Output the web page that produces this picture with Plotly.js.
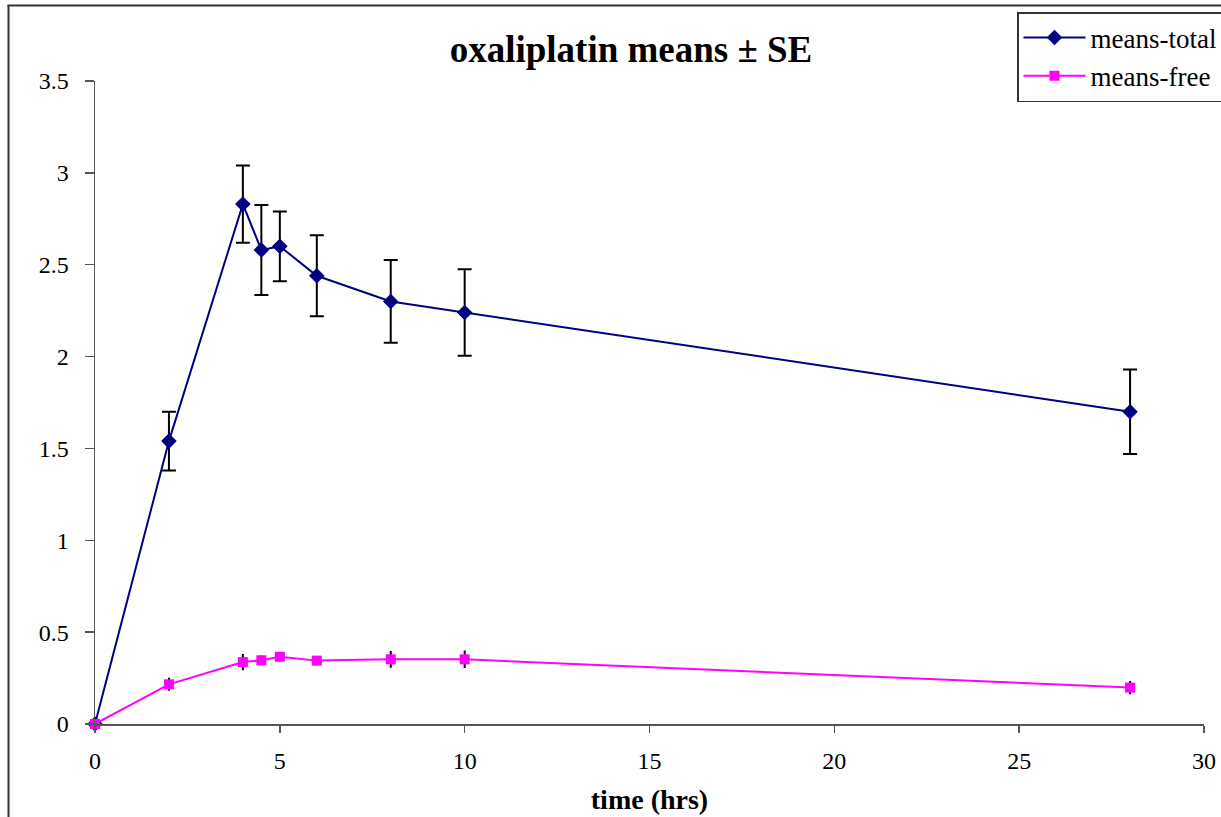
<!DOCTYPE html>
<html>
<head>
<meta charset="utf-8">
<script src="https://cdn.plot.ly/plotly-3.0.1.min.js"></script>
<style>
  html, body { margin: 0; padding: 0; background: #fff; }
  #chart { width: 1221px; height: 817px; }
</style>
</head>
<body>
<div id="chart"></div>
<script>
// Data
const timeHrs = [0, 2, 4, 4.5, 5, 6, 8, 10, 28];
const meansTotal = [0, 1.54, 2.83, 2.58, 2.60, 2.44, 2.30, 2.24, 1.70];
const seTotal = [0, 0.16, 0.21, 0.245, 0.19, 0.22, 0.225, 0.235, 0.23];
const meansFree = [0, 0.216, 0.337, 0.347, 0.366, 0.345, 0.352, 0.352, 0.198];
const seFree = [0, 0.03, 0.039, 0.02, 0.02, 0.02, 0.04, 0.042, 0.03];
const xTickVals = [0, 5, 10, 15, 20, 25, 30];
const yTickVals = [0, 0.5, 1, 1.5, 2, 2.5, 3, 3.5];
const yTickText = ['0', '0.5', '1', '1.5', '2', '2.5', '3', '3.5'];

const serif = 'Liberation Serif';

const traces = [
  {
    x: timeHrs, y: meansTotal, name: 'means-total', type: 'scatter', mode: 'lines+markers',
    cliponaxis: false,
    line: { color: '#000080', width: 2 },
    marker: { symbol: 'diamond', size: 12, color: '#000080' },
    error_y: { type: 'data', array: seTotal, visible: true, color: '#000000', thickness: 2, width: 7 }
  },
  {
    x: timeHrs, y: meansFree, name: 'means-free', type: 'scatter', mode: 'lines+markers',
    cliponaxis: false,
    line: { color: '#FF00FF', width: 2 },
    marker: { symbol: 'square', size: 10, color: '#FF00FF' },
    error_y: { type: 'data', array: seFree, visible: true, color: '#000000', thickness: 2, width: 1 }
  }
];

const L = 95, R = 17, T = 81, B = 93;
const W = 1221, H = 817;
const pw = W - L - R, ph = H - T - B;
const px2x = p => (p - L) / pw;
const py2y = p => (H - B - p) / ph;

const layout = {
  width: W, height: H,
  margin: { l: L, r: R, t: T, b: B, autoexpand: false },
  paper_bgcolor: '#ffffff', plot_bgcolor: '#ffffff',
  font: { family: serif, color: '#000000', size: 22 },
  title: {
    text: '<b>oxaliplatin means ± SE</b>',
    font: { family: serif, size: 37, color: '#000000' },
    x: px2x(631), xref: 'paper', xanchor: 'center',
    y: 1 - 49 / H, yref: 'container', yanchor: 'middle'
  },
  xaxis: {
    range: [0, 30], tickvals: xTickVals, ticktext: xTickVals.map(String),
    showgrid: false, zeroline: false, showline: true, linecolor: '#555555', linewidth: 1.5,
    ticks: 'outside', ticklen: 7, tickwidth: 1.5, tickcolor: '#555555',
    tickfont: { family: serif, size: 24, color: '#000000' },
    ticklabelstandoff: 8,
    title: { text: '<b>time (hrs)</b>', font: { family: serif, size: 28, color: '#000000' }, standoff: 16 },
    fixedrange: true
  },
  yaxis: {
    range: [0, 3.5], tickvals: yTickVals, ticktext: yTickText,
    showgrid: false, zeroline: false, showline: true, linecolor: '#555555', linewidth: 1.5,
    ticks: 'outside', ticklen: 9, tickwidth: 1.5, tickcolor: '#555555',
    tickfont: { family: serif, size: 24, color: '#000000' },
    ticklabelstandoff: 11,
    fixedrange: true
  },
  showlegend: true,
  legend: {
    x: px2x(1017), y: py2y(12), xref: 'paper', yref: 'paper',
    xanchor: 'left', yanchor: 'top',
    bgcolor: '#ffffff', bordercolor: '#333333', borderwidth: 1.5,
    font: { family: serif, size: 27, color: '#000000' },
    itemwidth: 62, tracegroupgap: 0
  },
  shapes: [
    { type: 'line', xref: 'paper', yref: 'paper', x0: px2x(8.5), x1: px2x(8.5), y0: py2y(5), y1: py2y(830),
      line: { color: '#333333', width: 2 } },
    { type: 'line', xref: 'paper', yref: 'paper', x0: px2x(7.5), x1: px2x(1230), y0: py2y(5.5), y1: py2y(5.5),
      line: { color: '#333333', width: 2 } }
  ]
};

Plotly.newPlot('chart', traces, layout, { displayModeBar: false, staticPlot: true });
</script>
</body>
</html>
